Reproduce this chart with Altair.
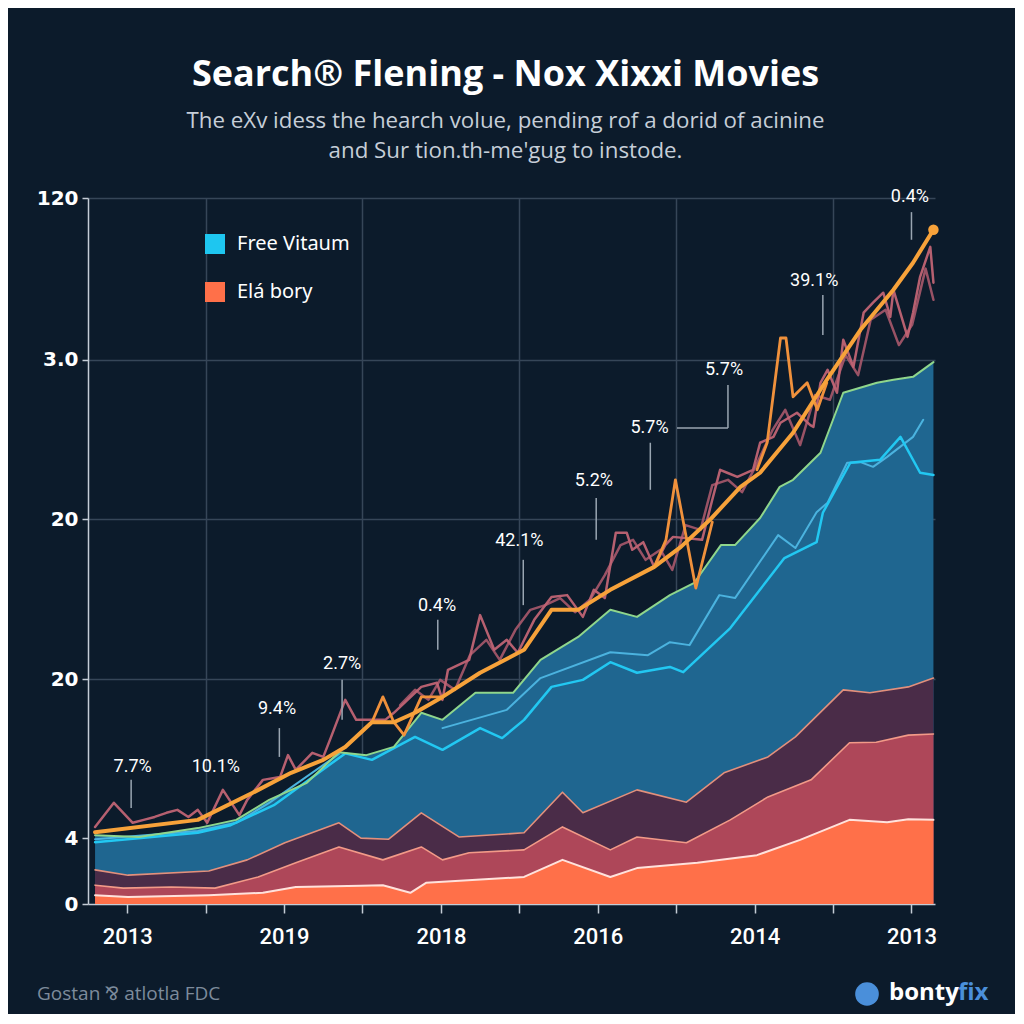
import altair as alt
import pandas as pd

# ---------------- data (x: period index, y: search volume units) ----------------
x_tick_all = [0, 10, 20, 30, 40, 50, 60, 70, 80, 90, 100]
x_tick_values = [0, 20, 40, 60, 80, 100]
x_tick_labels = ["2013", "2019", "2018", "2016", "2014", "2013"]

y_tick_values = [0, 11.2, 38.2, 65.4, 92.5, 120]
y_tick_labels = ["0", "4", "20", "20", "3.0", "120"]

blue_x = [-4.1, 1.5, 9.0, 13.9, 18.1, 22.9, 27.0, 30.5, 34.0, 37.5, 40.2, 44.4, 49.2, 52.7, 57.5,
          61.6, 65.0, 69.2, 72.3, 75.7, 77.5, 80.7, 83.2, 84.9, 88.4, 91.3, 95.6, 97.7, 100.2, 102.8]
blue_y = [11.7, 11.4, 12.9, 14.3, 17.7, 20.6, 25.8, 25.3, 26.7, 32.5, 31.3, 35.9, 35.9, 41.5, 45.4,
          50.0, 48.8, 52.5, 54.6, 61.0, 61.0, 65.6, 70.9, 72.1, 76.7, 86.9, 88.6, 89.1, 89.6, 92.1]

plum_x = [-4.1, 0.1, 10.4, 15.3, 20.1, 27.0, 29.8, 33.3, 37.5, 42.3, 50.6, 55.5, 58.1, 65.0, 71.3,
          76.1, 81.7, 85.2, 91.3, 94.7, 99.6, 102.8]
plum_y = [5.8, 4.9, 5.6, 7.5, 10.4, 13.8, 11.2, 11.0, 15.5, 11.4, 12.1, 19.0, 15.5, 19.4, 17.3,
          22.3, 25.0, 28.4, 36.4, 35.9, 36.9, 38.4]

crim_x = [-4.1, -0.5, 5.6, 11.2, 16.7, 21.5, 27.0, 32.6, 37.5, 40.2, 43.6, 50.6, 55.5, 61.6, 65.0,
          71.3, 76.9, 81.7, 87.2, 92.1, 95.5, 99.6, 102.8]
crim_y = [3.2, 2.7, 2.9, 2.7, 4.6, 7.0, 9.7, 7.5, 9.7, 7.5, 8.7, 9.2, 13.1, 9.2, 11.4,
          10.4, 14.3, 18.2, 21.1, 27.4, 27.5, 28.7, 28.9]

org_x = [-4.1, 0.1, 10.4, 17.3, 21.5, 29.8, 32.6, 36.1, 38.1, 50.6, 55.5, 61.6, 65.0, 72.7, 80.3,
         85.8, 92.1, 96.9, 99.6, 102.8]
org_y = [1.5, 1.2, 1.5, 1.9, 2.9, 3.1, 3.2, 1.9, 3.6, 4.6, 7.5, 4.6, 6.1, 7.0, 8.3,
         10.9, 14.3, 13.9, 14.4, 14.3]

cyan_x = [-4.1, 9.0, 13.2, 18.7, 27.8, 31.2, 36.7, 40.2, 45.0, 47.8, 50.6, 54.1, 58.1, 61.6, 65.0,
          69.2, 70.9, 76.9, 83.8, 87.9, 88.7, 92.2, 96.0, 98.6, 101.1, 102.8]
cyan_y = [10.5, 12.1, 13.4, 16.8, 25.6, 24.5, 28.4, 26.2, 29.9, 28.2, 31.3, 36.9, 38.1, 41.1, 39.3,
          40.3, 39.4, 46.9, 58.8, 61.5, 66.5, 75.0, 75.5, 79.4, 73.3, 72.9]

light1_x = [-4.1, 9.0, 13.9, 18.1, 27.0]
light1_y = [11.0, 12.4, 13.8, 17.2, 25.5]
light2_x = [40.2, 48.4, 52.7, 61.6, 66.4, 69.2, 71.7, 75.5, 77.5, 83.0, 85.2, 87.9, 89.3, 91.8,
            93.5, 95.1, 96.9, 100.2, 101.5]
light2_y = [29.9, 33.0, 38.4, 42.8, 42.3, 44.5, 44.0, 52.5, 52.0, 62.7, 60.5, 66.6, 68.2, 75.0,
            75.1, 74.3, 76.0, 79.4, 82.3]

trend_x = [-4.1, 9.0, 16.0, 20.9, 25.0, 27.8, 31.2, 34.0, 36.7, 40.2, 45.0, 50.6, 54.1, 57.5, 61.6,
           67.2, 70.6, 74.3, 78.2, 80.7, 84.9, 89.2, 93.5, 97.7, 100.2, 102.8]
trend_y = [12.2, 14.3, 18.9, 22.3, 24.5, 26.7, 30.9, 30.9, 32.5, 35.2, 39.3, 43.2, 50.0, 50.0, 53.4,
           57.3, 60.7, 65.3, 70.9, 73.3, 80.1, 89.1, 97.6, 104.4, 109.0, 114.6]
end_x = [102.8]
end_y = [114.6]

spikeA_x = [27.8, 31.2, 32.6, 34.0, 35.3, 37.5, 40.2]
spikeA_y = [26.7, 30.9, 35.2, 30.9, 28.7, 35.2, 35.2]
spikeB_x = [67.2, 68.7, 69.9, 72.5, 74.6]
spikeB_y = [57.3, 61.9, 72.1, 53.7, 64.9]
spikeC_x = [80.3, 81.6, 83.3, 84.0, 84.9, 86.7, 88.0, 89.2]
spikeC_y = [73.8, 78.4, 96.2, 96.2, 86.2, 88.6, 84.0, 88.6]

m1_x = [-4.1, -1.7, 0.7, 2.1, 3.5, 5.0, 6.4, 7.8, 9.0, 10.2, 12.2, 14.3, 15.3, 17.3, 19.5, 20.5,
        21.5, 23.6, 25.0, 26.0, 27.8, 29.2, 30.5, 32.9, 34.0, 37.5, 39.5, 40.2, 40.9, 43.6, 45.0,
        46.8, 48.4, 49.8, 51.9, 54.1, 56.1, 58.1, 59.5, 60.9, 62.3, 63.7, 64.4, 65.8, 67.2, 68.6,
        69.6, 73.3, 74.6, 75.6, 76.5, 77.8, 79.8, 80.7, 82.4, 83.3, 85.4, 87.1, 87.5, 88.4, 89.3,
        90.5, 91.3, 92.6, 93.9, 95.1, 96.4, 97.3, 97.7, 99.5, 100.2, 101.1, 102.4, 102.8]
m1_y = [13.1, 17.2, 13.8, 14.3, 14.8, 15.5, 16.0, 14.8, 16.0, 13.8, 19.4, 15.1, 17.7, 21.1, 21.6,
        25.3, 22.8, 25.7, 25.0, 28.4, 34.7, 31.3, 31.3, 31.3, 32.5, 36.9, 37.6, 34.7, 39.8, 41.5,
        49.1, 43.2, 44.9, 42.7, 48.3, 52.2, 52.5, 48.8, 53.4, 52.0, 63.1, 63.1, 60.2, 61.5, 57.3,
        61.0, 62.4, 61.9, 68.7, 73.8, 73.3, 72.6, 73.8, 78.4, 79.4, 81.8, 83.5, 81.4, 81.1, 88.6,
        90.8, 86.9, 95.9, 91.3, 100.5, 102.2, 103.9, 99.8, 104.4, 96.4, 100.5, 106.6, 111.7, 105.6]

m2_x = [34.8, 36.7, 38.4, 39.9, 41.8, 43.7, 45.8, 47.5, 49.5, 51.4, 53.3, 55.2, 57.1, 59.0, 60.9,
        62.9, 64.5, 66.1, 68.0, 69.5, 71.2, 73.1, 74.6, 76.6, 78.4, 80.2, 82.3, 83.9, 85.8, 87.7,
        89.6, 91.6, 93.2, 94.8, 96.7, 98.4, 100.1, 101.8, 102.8]
m2_y = [33.8, 36.4, 34.7, 38.1, 36.4, 42.3, 44.9, 41.5, 46.6, 50.0, 50.8, 52.0, 49.6, 51.7, 55.9,
        61.0, 61.9, 58.5, 60.2, 56.8, 64.4, 63.6, 71.2, 72.1, 70.0, 74.6, 80.6, 84.0, 78.0, 86.5,
        85.7, 93.3, 89.9, 99.3, 101.0, 95.0, 98.5, 108.0, 102.7]

ann_text = ["7.7%", "10.1%", "9.4%", "2.7%", "0.4%", "42.1%", "5.2%", "5.7%", "5.7%", "39.1%", "0.4%"]
ann_x = [0.7, 11.3, 19.1, 27.4, 39.5, 50.0, 59.5, 66.6, 76.1, 87.6, 99.8]
ann_y = [23.3, 23.3, 33.1, 40.8, 50.7, 61.7, 71.9, 80.9, 90.8, 105.9, 120.2]

lead_x = [0.5, 19.4, 27.4, 39.6, 50.5, 59.8, 66.7, 76.6, 88.7, 100.0]
lead_y1 = [21.1, 29.9, 38.1, 48.3, 58.5, 69.0, 78.4, 88.2, 103.5, 117.6]
lead_y2 = [16.3, 25.0, 31.3, 43.2, 50.8, 61.9, 70.4, 80.9, 96.7, 112.9]
conn_x1 = [70.1]
conn_x2 = [76.6]
conn_y = [80.9]

legend_names = ["Free Vitaum", "Elá bory"]
legend_colors = ["#1EC6F0", "#FF7049"]

title_text = "Search® Flening - Nox Xixxi Movies"
subtitle_lines = ["The eXv idess the hearch volue, pending rof a dorid of acinine",
                  "and Sur tion.th-me'gug to instode."]
footer_left = "Gostan ⅋ atlotla FDC"
brand_a = "bonty"
brand_b = "fix"

# ---------------- helpers ----------------
def df(xs, ys, **extra):
    d = pd.DataFrame({"x": xs, "y": ys})
    for k, v in extra.items():
        d[k] = v
    return d


def label_expr(values, labels):
    s = ""
    for v, l in zip(values, labels):
        s += f"abs(datum.value - {v}) < 0.01 ? '{l}' : "
    return s + "''"


BG = "#0C1B2B"
GRID = "#364658"
AXIS = "#C4CCD6"

x_scale = alt.Scale(domain=[-5, 103], nice=False, zero=False)
y_scale = alt.Scale(domain=[0, 120], nice=False, zero=False)

x_axis = alt.Axis(
    values=x_tick_all, labelExpr=label_expr(x_tick_values, x_tick_labels), title=None,
    grid=True, gridColor=GRID, gridWidth=1.5,
    gridOpacity={"condition": {"test": "datum.value % 20 != 0", "value": 1}, "value": 0},
    domainColor=AXIS, domainWidth=1.5, tickColor=AXIS, tickWidth=1.5, tickSize=9,
    labelColor="#FFFFFF", labelFont="Roboto", labelFontSize=22, labelFontWeight=500,
    labelPadding=13, labelFlush=False, labelOverlap=False, labelAngle=0,
)
y_axis = alt.Axis(
    values=y_tick_values, labelExpr=label_expr(y_tick_values, y_tick_labels), title=None,
    grid=True, gridColor=GRID, gridWidth=1.5,
    gridOpacity={"condition": {"test": "datum.value > 20", "value": 1}, "value": 0},
    domainColor=AXIS, domainWidth=1.5, tickColor=AXIS, tickWidth=1.5, tickSize=6,
    labelColor="#FFFFFF", labelFont="DejaVu Sans", labelFontSize=20, labelFontWeight="bold",
    labelPadding=4, labelFlush=False, labelOverlap=False,
)
X = alt.X("x:Q", scale=x_scale, axis=x_axis)
Y = alt.Y("y:Q", scale=y_scale, axis=y_axis)


def area(d, color):
    return alt.Chart(d).mark_area(color=color, opacity=1, interpolate="linear").encode(x=X, y=Y)


def line(d, color, width, opacity=1.0, detail=None):
    enc = dict(x=X, y=Y)
    if detail:
        enc["detail"] = detail
    return alt.Chart(d).mark_line(color=color, strokeWidth=width, opacity=opacity,
                                  strokeJoin="round", strokeCap="round").encode(**enc)


blue_df = df(blue_x, blue_y)
plum_df = df(plum_x, plum_y)
crim_df = df(crim_x, crim_y)
org_df = df(org_x, org_y)
light_df = pd.concat([df(light1_x, light1_y, seg="a"), df(light2_x, light2_y, seg="b")])
spike_df = pd.concat([df(spikeA_x, spikeA_y, seg="a"), df(spikeB_x, spikeB_y, seg="b"),
                      df(spikeC_x, spikeC_y, seg="c")])

layers = [
    area(blue_df, "#1F6690"),
    line(light_df, "#4BB3DF", 2, detail="seg:N"),
    line(df(cyan_x, cyan_y), "#22C8F2", 2.5),
    line(blue_df, "#8FD68C", 2),
    area(plum_df, "#4A2C48"),
    line(plum_df, "#E2907C", 1.6),
    area(crim_df, "#AE4759"),
    line(crim_df, "#F29A88", 1.6),
    area(org_df, "#FF7049"),
    line(org_df, "#FFE2DC", 2),
    line(df(m2_x, m2_y), "#A9596B", 2.5, opacity=0.9),
    line(df(m1_x, m1_y), "#C06474", 2.5, opacity=0.95),
    line(spike_df, "#F0913C", 2.8, detail="seg:N"),
    line(df(trend_x, trend_y), "#F7A23A", 4),
    alt.Chart(df(end_x, end_y)).mark_circle(color="#F7A23A", size=110, opacity=1).encode(x=X, y=Y),
    alt.Chart(pd.DataFrame({"x": lead_x, "y": lead_y1, "y2": lead_y2})).mark_rule(
        color="#9AA6B2", strokeWidth=1.5).encode(x=X, y=Y, y2="y2:Q"),
    alt.Chart(pd.DataFrame({"x": conn_x1, "x2": conn_x2, "y": conn_y})).mark_rule(
        color="#9AA6B2", strokeWidth=1.5).encode(x=X, x2="x2:Q", y=Y),
    alt.Chart(pd.DataFrame({"x": ann_x, "y": ann_y, "t": ann_text})).mark_text(
        color="#FFFFFF", font="Roboto", fontSize=18, align="center", baseline="middle").encode(
        x=X, y=Y, text="t:N"),
    alt.Chart(pd.DataFrame({"series": legend_names})).mark_square(size=0, opacity=1).encode(
        color=alt.Color("series:N", scale=alt.Scale(domain=legend_names, range=legend_colors),
                        legend=alt.Legend(orient="none", legendX=117, legendY=36, title=None,
                                          symbolType="square", symbolSize=400, symbolOpacity=1,
                                          symbolStrokeWidth=0, labelFontSize=20,
                                          labelColor="#FFFFFF", labelFont="Noto Sans",
                                          labelOffset=12, rowPadding=28, labelLimit=300))),
    alt.Chart(pd.DataFrame({"t": [footer_left]})).mark_text(
        align="left", baseline="middle", font="Open Sans", fontSize=19, color="#7D8B9C").encode(
        x=alt.value(-51), y=alt.value(796), text="t:N"),
    alt.Chart(pd.DataFrame({"t": [brand_a]})).mark_circle(color="#4A8FDA", size=560, opacity=1).encode(
        x=alt.value(779), y=alt.value(796)),
    alt.Chart(pd.DataFrame({"t": [brand_a]})).mark_text(
        align="left", baseline="middle", font="Open Sans", fontSize=24, fontWeight="bold",
        color="#FFFFFF").encode(x=alt.value(801), y=alt.value(795), text="t:N"),
    alt.Chart(pd.DataFrame({"t": [brand_b]})).mark_text(
        align="left", baseline="middle", font="Open Sans", fontSize=24, fontWeight="bold",
        color="#4A8FDA").encode(x=alt.value(870), y=alt.value(795), text="t:N"),
]

chart = alt.layer(*layers).properties(
    width=847, height=706,
    title=alt.TitleParams(
        text=title_text, subtitle=subtitle_lines, anchor="middle", dx=-6,
        font="Open Sans", fontSize=36, fontWeight="bold", color="#FFFFFF",
        subtitleFont="Open Sans", subtitleFontSize=22.3, subtitleColor="#C6CED8",
        subtitleLineHeight=30, subtitlePadding=16, offset=25,
    ),
    padding={"left": 80, "top": 190, "right": 80, "bottom": 110},
    autosize=alt.AutoSizeParams(type="none"),
).configure(background=BG).configure_view(stroke=None)

chart.save("out.html", embed_options={"renderer": "svg", "actions": False})
